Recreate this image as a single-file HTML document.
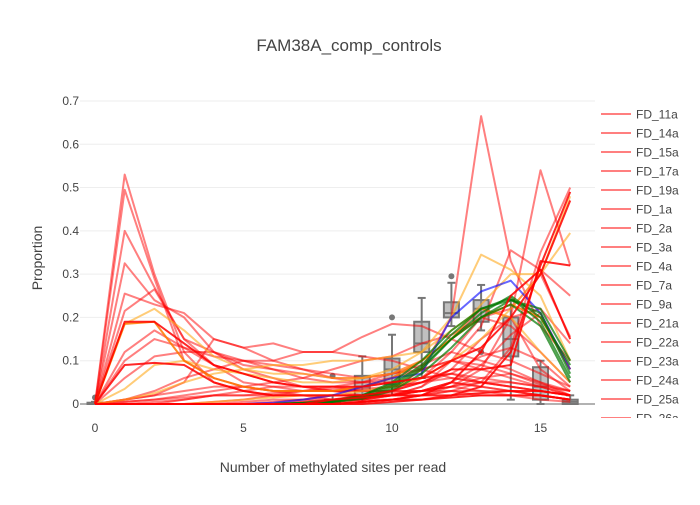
<!DOCTYPE html>
<html><head><meta charset="utf-8"><style>
body{margin:0;background:#fff;font-family:"Liberation Sans",sans-serif}
svg text{font-family:"Liberation Sans",sans-serif;fill:#444}
</style></head><body>
<svg id="chart" width="700" height="500" xmlns="http://www.w3.org/2000/svg">
<defs><clipPath id="legclip"><rect x="595" y="100" width="105" height="318"/></clipPath></defs>
<text x="349" y="51" font-size="17" text-anchor="middle">FAM38A_comp_controls</text>
<g id="grid"></g><g id="yticks"></g><g id="xticks"></g>
<line x1="80" x2="595" y1="404" y2="404" stroke="#999" stroke-width="1.5"/>
<g id="boxes"></g><g id="series"></g>
<text x="333" y="472" font-size="14" text-anchor="middle">Number of methylated sites per read</text>
<text x="42" y="258" font-size="14" text-anchor="middle" transform="rotate(-90 42 258)">Proportion</text>
<g id="legend" clip-path="url(#legclip)"></g>
</svg>
<script>
const xTicks=[0,5,10,15];
const yTicks=[0,0.1,0.2,0.3,0.4,0.5,0.6,0.7];
const yTickLabels=["0","0.1","0.2","0.3","0.4","0.5","0.6","0.7"];
const legendLabels=["FD_11a","FD_14a","FD_15a","FD_17a","FD_19a","FD_1a","FD_2a","FD_3a","FD_4a","FD_7a","FD_9a","FD_21a","FD_22a","FD_23a","FD_24a","FD_25a","FD_26a"];
const redSeries=[
[0,0.53,0.30,0.12,0.05,0.03,0.02,0.02,0.01,0.01,0.02,0.02,0.03,0.02,0.02,0.01,0.005],
[0,0.495,0.29,0.10,0.06,0.04,0.03,0.02,0.02,0.02,0.02,0.03,0.05,0.04,0.03,0.02,0.01],
[0,0.40,0.27,0.15,0.09,0.05,0.04,0.03,0.03,0.02,0.02,0.03,0.04,0.03,0.02,0.02,0.01],
[0,0.325,0.24,0.20,0.12,0.08,0.06,0.04,0.03,0.03,0.03,0.03,0.05,0.04,0.03,0.02,0.01],
[0,0.255,0.23,0.21,0.15,0.13,0.14,0.12,0.12,0.11,0.10,0.08,0.06,0.05,0.04,0.03,0.02],
[0,0.215,0.265,0.15,0.12,0.10,0.09,0.08,0.06,0.05,0.05,0.06,0.07,0.05,0.04,0.03,0.02],
[0,0.12,0.17,0.13,0.11,0.10,0.08,0.06,0.05,0.05,0.06,0.08,0.10,0.09,0.07,0.05,0.02],
[0,0.06,0.11,0.12,0.12,0.09,0.08,0.07,0.06,0.06,0.07,0.09,0.12,0.10,0.08,0.05,0.03],
[0,0.01,0.03,0.06,0.08,0.10,0.10,0.12,0.12,0.155,0.185,0.18,0.15,0.12,0.10,0.07,0.04],
[0,0.01,0.02,0.05,0.15,0.13,0.10,0.08,0.07,0.06,0.07,0.08,0.10,0.08,0.06,0.04,0.02],
[0,0,0,0,0,0,0,0,0.01,0.02,0.03,0.08,0.20,0.665,0.33,0.18,0.10],
[0,0,0,0,0,0,0,0,0.005,0.01,0.02,0.04,0.10,0.18,0.355,0.31,0.25],
[0,0,0,0,0,0,0,0,0.005,0.01,0.01,0.02,0.04,0.08,0.20,0.54,0.32],
[0,0,0,0,0,0,0,0,0,0.005,0.01,0.02,0.03,0.05,0.13,0.35,0.50],
[0,0,0,0,0,0,0.005,0.01,0.01,0.02,0.03,0.06,0.12,0.20,0.22,0.30,0.155],
[0,0,0,0,0,0,0,0.005,0.01,0.01,0.02,0.04,0.08,0.15,0.20,0.22,0.14],
[0,0,0,0,0,0.005,0.01,0.01,0.02,0.02,0.02,0.03,0.03,0.03,0.03,0.02,0.01],
[0,0.01,0.02,0.03,0.04,0.04,0.05,0.06,0.08,0.10,0.11,0.14,0.16,0.20,0.18,0.12,0.05],
[0,0,0,0,0.005,0.01,0.02,0.03,0.04,0.05,0.07,0.10,0.15,0.22,0.20,0.08,0.03],
[0,0,0,0.01,0.02,0.03,0.04,0.04,0.04,0.03,0.03,0.03,0.04,0.05,0.05,0.04,0.02],
[0,0.005,0.01,0.02,0.03,0.04,0.03,0.03,0.035,0.04,0.05,0.06,0.07,0.06,0.05,0.04,0.03],
[0,0,0.005,0.01,0.02,0.02,0.025,0.03,0.03,0.035,0.04,0.05,0.07,0.11,0.13,0.10,0.04],
[0,0.1,0.15,0.13,0.09,0.07,0.05,0.04,0.03,0.03,0.04,0.05,0.06,0.05,0.04,0.03,0.02],
[0,0,0,0,0,0,0,0.005,0.01,0.015,0.02,0.03,0.05,0.09,0.16,0.21,0.08],
[0,0.005,0.01,0.015,0.02,0.02,0.02,0.02,0.02,0.02,0.025,0.03,0.04,0.06,0.07,0.045,0.03]
];
const brightRedSeries=[
[0,0.19,0.19,0.14,0.09,0.07,0.05,0.04,0.04,0.04,0.05,0.06,0.10,0.13,0.20,0.30,0.47],
[0,0.09,0.095,0.09,0.05,0.03,0.02,0.02,0.02,0.02,0.03,0.05,0.08,0.08,0.09,0.33,0.32],
[0,0,0,0,0,0,0,0,0,0.005,0.01,0.01,0.02,0.04,0.12,0.32,0.49],
[0,0,0,0,0,0,0,0,0,0,0.005,0.01,0.015,0.02,0.02,0.02,0.01],
[0,0,0,0,0,0,0,0,0.01,0.015,0.02,0.02,0.02,0.025,0.03,0.03,0.02],
[0,0,0,0,0,0,0,0,0,0.005,0.01,0.02,0.05,0.12,0.25,0.31,0.15]
];
const orangeSeries=[
[0,0.035,0.09,0.10,0.08,0.07,0.06,0.05,0.05,0.06,0.08,0.12,0.20,0.345,0.31,0.25,0.10],
[0,0.185,0.22,0.17,0.11,0.08,0.07,0.07,0.06,0.06,0.07,0.10,0.15,0.23,0.30,0.30,0.395],
[0,0.01,0.025,0.05,0.07,0.08,0.09,0.09,0.10,0.10,0.11,0.12,0.17,0.22,0.20,0.12,0.05],
[0,0,0,0,0.005,0.01,0.015,0.02,0.02,0.03,0.04,0.06,0.10,0.15,0.22,0.30,0.48],
[0,0.185,0.19,0.10,0.06,0.04,0.03,0.03,0.03,0.04,0.06,0.10,0.15,0.20,0.23,0.20,0.08]
];
const blueSeries=[0,0,0,0,0,0,0.003,0.01,0.02,0.04,0.06,0.07,0.20,0.26,0.285,0.21,0.08];
const greenSeries=[
[0,0,0,0,0,0,0,0.002,0.005,0.015,0.035,0.08,0.15,0.21,0.25,0.20,0.09],
[0,0,0,0,0,0,0,0.002,0.005,0.02,0.045,0.09,0.16,0.22,0.245,0.19,0.06],
[0,0,0,0,0,0,0,0.003,0.008,0.02,0.05,0.10,0.17,0.22,0.24,0.21,0.07],
[0,0,0,0,0,0,0,0.002,0.006,0.018,0.04,0.085,0.15,0.20,0.23,0.18,0.05],
[0,0,0,0,0,0,0,0.001,0.004,0.012,0.03,0.07,0.13,0.20,0.24,0.22,0.10]
];
const boxX=[0,8,9,10,11,12,13,14,15,16];
const boxLow=[0,0,0.005,0.02,0.06,0.18,0.17,0.01,0,0];
const boxQ1=[0,0,0.015,0.045,0.12,0.20,0.19,0.11,0.01,0];
const boxMed=[0,0.005,0.04,0.08,0.14,0.21,0.22,0.15,0.04,0.005];
const boxQ3=[0.003,0.01,0.065,0.105,0.19,0.235,0.24,0.20,0.085,0.01];
const boxHigh=[0.005,0.02,0.11,0.16,0.245,0.28,0.275,0.24,0.10,0.02];
const boxOut=[0.015,0.065,null,0.2,null,0.295,0.12,null,null,null];

const NS="http://www.w3.org/2000/svg";
const xs=v=>95+v*29.7, ys=v=>404-v*432.9;
function mk(tag,parent,attrs){const e=document.createElementNS(NS,tag);for(const k in attrs)e.setAttribute(k,attrs[k]);document.getElementById(parent).appendChild(e);return e;}
yTicks.forEach((t,i)=>{
 if(t>0){const g=mk('line','grid',{x1:80,x2:595,y1:ys(t),y2:ys(t),stroke:'#eee','stroke-width':1});
 
 }
 const l=mk('text','yticks',{x:79,y:ys(t)+4,'font-size':12,'text-anchor':'end'});l.textContent=yTickLabels[i];
 
 
});
xTicks.forEach(t=>{const l=mk('text','xticks',{x:xs(t),y:432,'font-size':12,'text-anchor':'middle'});l.textContent=t;
 
 });
boxX.forEach((x,i)=>{
 const cx=xs(x),w=7.5;
 const wl=mk('line','boxes',{x1:cx,x2:cx,y1:ys(boxLow[i]),y2:ys(boxHigh[i]),stroke:'#777','stroke-width':2});
 
 
 [boxLow[i],boxHigh[i]].forEach(v=>{const c=mk('line','boxes',{x1:cx-4,x2:cx+4,y1:ys(v),y2:ys(v),stroke:'#777','stroke-width':2});
 
 });
 const r=mk('rect','boxes',{x:cx-w,y:ys(boxQ3[i]),width:2*w,height:Math.max(1,ys(boxQ1[i])-ys(boxQ3[i])),fill:'rgba(150,150,150,0.6)',stroke:'#777','stroke-width':2});
 
 
 const m=mk('line','boxes',{x1:cx-w,x2:cx+w,y1:ys(boxMed[i]),y2:ys(boxMed[i]),stroke:'#777','stroke-width':2});
 
 
 if(boxOut[i]!==null){const o=mk('circle','boxes',{cx:cx,cy:ys(boxOut[i]),r:3,fill:'#777'});
 
 }
});
function drawLine(vals,color,name){
 const p=mk('polyline','series',{points:vals.map((v,i)=>xs(i)+','+ys(v)).join(' '),fill:'none',stroke:color,'stroke-width':2,'stroke-linejoin':'round'});
 
 
}
redSeries.forEach(s=>drawLine(s,'rgba(255,0,0,0.5)','red-series-line'));
orangeSeries.forEach((s,i)=>drawLine(s,i==4?'rgba(255,120,0,0.85)':'rgba(255,170,30,0.6)','orange-series-line'));
drawLine(blueSeries,'rgba(0,0,255,0.6)','blue-series-line');
greenSeries.forEach(s=>drawLine(s,'rgba(0,120,0,0.7)','green-series-line'));
brightRedSeries.forEach(s=>drawLine(s,'rgba(255,0,0,0.85)','bright-red-series-line'));
legendLabels.forEach((lab,i)=>{
 const y=114+i*19;
 const l=mk('line','legend',{x1:601,x2:631,y1:y,y2:y,stroke:'rgba(255,0,0,0.5)','stroke-width':2});
 
 
 const t=mk('text','legend',{x:636,y:y+4.5,'font-size':12});t.textContent=lab;
 
 
});
</script>
</body></html>
